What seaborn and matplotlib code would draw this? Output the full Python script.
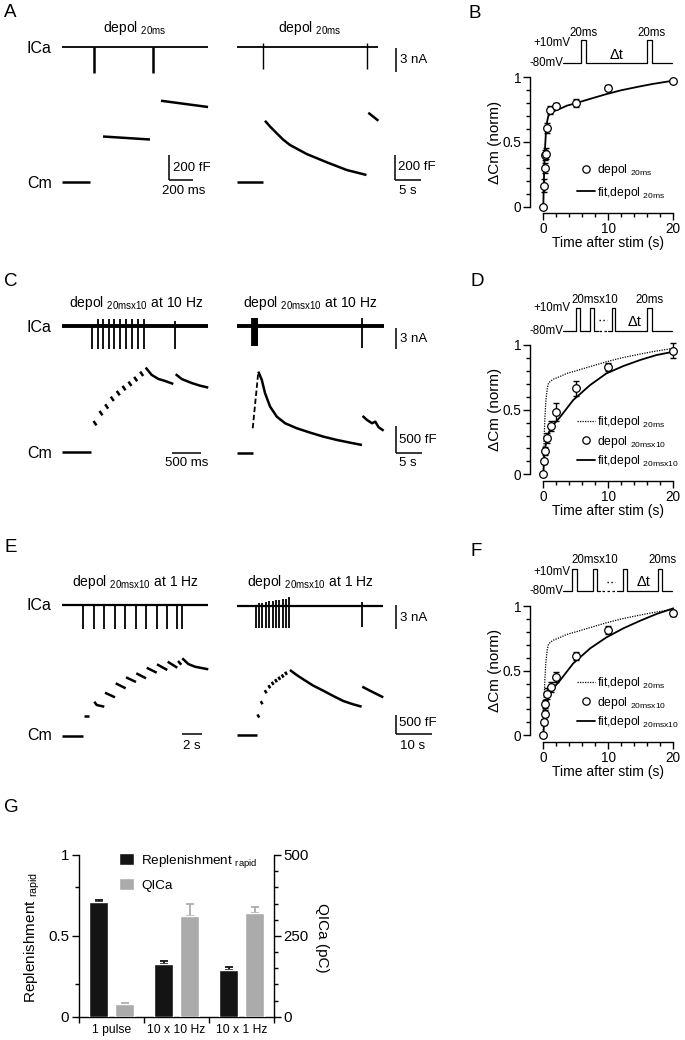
import numpy as np
import matplotlib
matplotlib.use("Agg")
import matplotlib.pyplot as plt
import seaborn as sns
from matplotlib.lines import Line2D
from matplotlib.patches import Patch

sns.set_theme(style="ticks", rc={
    "axes.edgecolor": "black", "text.color": "black", "axes.labelcolor": "black",
    "xtick.color": "black", "ytick.color": "black", "axes.linewidth": 1.0,
})
plt.rcParams["font.family"] = ["Liberation Sans", "DejaVu Sans"]
plt.rcParams["mathtext.fontset"] = "custom"
plt.rcParams["mathtext.rm"] = "Liberation Sans"
plt.rcParams["mathtext.it"] = "Liberation Sans"
plt.rcParams["mathtext.bf"] = "Liberation Sans"
plt.rcParams["mathtext.default"] = "regular"

# ---------------- data ----------------
# A: single 20 ms depolarisations (left: ms, right: s; ICa nA, Cm fF)
A_L_SPIKE_T = [267, 758]
A_L_SPIKE_UP = [0.0, 0.0]
A_L_SPIKE_DN = [-3.25, -3.25]
A_L_CM_T = [[0, 233], [342, 733], [825, 1217]]
A_L_CM = [[0, 0], [364, 340], [650, 600]]
A_R_SPIKE_T = [5.0, 25.0]
A_R_SPIKE_UP = [0.5, 0.5]
A_R_SPIKE_DN = [-2.75, -2.75]
A_R_CM_T = [[0, 5.0], [5.38, 6.35, 7.63, 8.85, 10.19, 13.4, 17.25, 21.1, 24.9], [25.25, 27.2]]
A_R_CM = [[0, 0], [490, 444, 390, 340, 296, 224, 158, 96, 56], [554, 490]]

# C: 10 x 20 ms at 10 Hz
C_L_SPIKE_T = [523, 615, 712, 810, 901, 1000, 1098, 1201, 1304, 1413, 1948]
C_L_SPIKE_UP = [0.0, 0.9, 0.9, 0.9, 0.9, 0.9, 0.9, 0.9, 0.9, 0.9, 0.7]
C_L_SPIKE_DN = [-3.3, -3.3, -3.3, -3.3, -3.3, -3.3, -3.3, -3.3, -3.3, -3.3, -3.3]
C_L_CM_T = [[0, 500], [1443, 1546, 1660, 1776, 1919], [1960, 2064, 2236, 2379, 2522]]
C_L_CM = [[0, 0], [1575, 1438, 1363, 1325, 1269], [1451, 1361, 1286, 1237, 1200]]
C_L_DASH_T = [569, 672, 770, 867, 970, 1069, 1172, 1270, 1373]
C_L_DASH = [534, 722, 847, 991, 1097, 1191, 1272, 1360, 1459]
C_R_SPIKE_T = [3.0, 3.1, 3.2, 3.3, 3.4, 3.5, 3.6, 3.7, 3.8, 3.9, 24.4]
C_R_SPIKE_UP = [1.06, 1.06, 1.06, 1.06, 1.06, 1.06, 1.06, 1.06, 1.06, 1.06, 1.05]
C_R_SPIKE_DN = [-2.86, -2.86, -2.86, -2.86, -2.86, -2.86, -2.86, -2.86, -2.86, -2.86, -3.24]
C_R_CM_T = [[0, 3.1],
            [4.15, 4.82, 5.46, 6.44, 7.74, 9.36, 11.64, 14.24, 16.83, 19.44, 22.04, 24.32],
            [24.43, 25.29, 26.27, 26.91, 27.55, 28.53]]
C_R_CM = [[0, 0],
          [1524, 1369, 1119, 868, 681, 557, 463, 381, 306, 244, 193, 150],
          [694, 619, 557, 587, 482, 418]]
C_R_RISE_T = [3.06, 4.15]
C_R_RISE = [463, 1524]

# E: 10 x 20 ms at 1 Hz
E_L_SPIKE_T = [2.13, 3.2, 4.23, 5.3, 6.33, 7.37, 8.4, 9.47, 10.53, 11.53, 12.0]
E_L_SPIKE_UP = [0.0] * 11
E_L_SPIKE_DN = [-3.04] * 11
E_L_CM_T = [[0, 2.1], [2.23, 2.73], [3.23, 3.47, 4.23], [4.3, 5.3], [5.37, 6.37], [6.4, 7.4],
            [7.43, 8.4], [8.47, 9.47], [9.5, 10.53], [10.57, 11.53], [11.6, 11.93],
            [12.03, 12.63, 13.3, 14.63]]
E_L_CM = [[0, 0], [502, 502], [881, 795, 751], [1114, 994], [1357, 1227], [1512, 1391],
          [1616, 1487], [1761, 1632], [1849, 1702], [1917, 1761], [1935, 1839],
          [2005, 1857, 1787, 1720]]
E_R_SPIKE_T = [5.23, 6.16, 7.09, 8.03, 9.05, 9.99, 10.92, 11.85, 12.79, 13.72, 14.65, 35.1]
E_R_SPIKE_UP = [0.08, 0.29, 0.38, 0.5, 0.58, 0.63, 0.71, 0.75, 0.79, 0.83, 1.04, 0.5]
E_R_SPIKE_DN = [-2.83, -2.83, -2.83, -2.83, -2.83, -2.83, -2.83, -2.83, -2.83, -2.83, -2.83, -2.63]
E_R_CM_T = [[0, 5.5], [14.84, 16.71, 18.57, 21.37, 24.17, 26.97, 29.77, 32.57, 34.9],
            [35.09, 37.24, 39.1, 40.97]]
E_R_CM = [[0, 0], [1684, 1554, 1442, 1278, 1148, 1010, 881, 794, 734], [1251, 1148, 1062, 976]]
E_R_DASH_T = [5.97, 6.9, 8.03, 9.05, 9.99, 10.92, 11.85, 12.79, 13.72]
E_R_DASH = [492, 837, 1122, 1251, 1339, 1407, 1468, 1528, 1598]

# B / D / F: normalised delta Cm vs time after stim (s)
B_T = [0, 0.1, 0.2, 0.3, 0.4, 0.6, 1, 2, 5, 10, 20]
B_Y = [0, 0.16, 0.30, 0.40, 0.41, 0.61, 0.75, 0.78, 0.80, 0.92, 0.97]
B_E = [0, 0.05, 0.04, 0.04, 0.04, 0.04, 0.03, 0.02, 0.03, 0.02, 0.01]
FIT20_T = [0, 0.05, 0.15, 0.25, 0.4, 0.6, 0.77, 1.0, 1.5, 2.5, 3.6, 5, 7.2, 9.7, 12, 14.9, 17, 20]
FIT20_Y = [0, 0.12, 0.31, 0.44, 0.57, 0.66, 0.70, 0.715, 0.735, 0.755, 0.78, 0.80, 0.833, 0.87, 0.90, 0.93, 0.95, 0.974]

D_T = [0, 0.1, 0.2, 0.5, 1.2, 2, 5, 10, 20]
D_Y = [0, 0.10, 0.18, 0.28, 0.375, 0.483, 0.664, 0.832, 0.956]
D_E = [0, 0.02, 0.03, 0.04, 0.04, 0.07, 0.06, 0.03, 0.06]
D_FIT_T = [0, 0.15, 0.4, 0.77, 1.5, 2.6, 4.6, 7.2, 9.7, 12.3, 14.9, 17.4, 20]
D_FIT_Y = [0, 0.134, 0.238, 0.315, 0.38, 0.444, 0.574, 0.69, 0.78, 0.837, 0.884, 0.922, 0.948]

F_T = [0, 0.1, 0.2, 0.3, 0.5, 1.2, 2, 5, 10, 20]
F_Y = [0, 0.103, 0.168, 0.245, 0.323, 0.375, 0.452, 0.612, 0.814, 0.943]
F_E = [0, 0.02, 0.03, 0.03, 0.04, 0.04, 0.04, 0.03, 0.03, 0.02]
F_FIT_T = [0, 0.15, 0.4, 0.77, 1.5, 2.6, 4.6, 7.2, 9.7, 12.3, 14.9, 17.4, 20]
F_FIT_Y = [0, 0.116, 0.22, 0.297, 0.362, 0.426, 0.556, 0.672, 0.757, 0.827, 0.886, 0.938, 0.982]

# G: bar chart
G_CATS = ["1 pulse", "10 x 10 Hz", "10 x 1 Hz"]
G_REPL = [0.707, 0.326, 0.289]
G_REPL_ERR = [0.015, 0.02, 0.02]
G_QICA = [38, 311, 322]
G_QICA_ERR = [5, 36, 18]

# ---------------- figure helpers ----------------
W, H, DPI = 685, 1040, 100
fig = plt.figure(figsize=(W / DPI, H / DPI), dpi=DPI)
K = "black"
TRACE_LW = 1.8


def px_axes(l, t, r, b):
    return fig.add_axes([l / W, 1 - b / H, (r - l) / W, (b - t) / H])


def trace_axes(l, t, r, b, x0, sx, y0, sy):
    ax = px_axes(l, t, r, b)
    ax.set_xlim((l - x0) * sx, (r - x0) * sx)
    ax.set_ylim((y0 - b) * sy, (y0 - t) * sy)
    ax.axis("off")
    ax.patch.set_alpha(0)
    return ax


def ftext(x, y, s, size=9.5, ha="left", va="center", **kw):
    fig.text(x / W, 1 - y / H, s, size=size, ha=ha, va=va, **kw)


def ica(ax, t1, spikes, up, dn, lw_base, lw_spike):
    ax.plot([0, t1], [0, 0], color=K, lw=lw_base, solid_capstyle="butt")
    ax.vlines(spikes, dn, up, color=K, lw=lw_spike)


def cm(ax, ts, vs, lw=TRACE_LW):
    for t, v in zip(ts, vs):
        ax.plot(t, v, color=K, lw=lw, solid_capstyle="butt")


def dashes(ax, ts, vs, dt, dv, lw=TRACE_LW):
    for t, v in zip(ts, vs):
        ax.plot([t - dt, t + dt], [v + dv, v - dv], color=K, lw=lw, solid_capstyle="butt")


def lbar(ax, x, y, lx, ly, lw=1.1):
    if ly:
        ax.plot([x, x], [y, y + ly], color=K, lw=lw, solid_capstyle="butt")
    if lx:
        ax.plot([x, x + lx], [y, y], color=K, lw=lw, solid_capstyle="butt")


def sub(base, s):
    return base + " ${}_{" + s + "}$"


# ---------------- panel A ----------------
ftext(4, 12.5, "A", size=13.5)
ftext(135, 28, sub("depol", "20ms"), size=10, ha="center")
ftext(310, 28, sub("depol", "20ms"), size=10, ha="center")
ftext(27, 48, "ICa", size=11.5)
ftext(27, 183, "Cm", size=11.5)
a1 = trace_axes(55, 30, 230, 85, 62, 200 / 24, 47, 3 / 24)
ica(a1, 1217, A_L_SPIKE_T, A_L_SPIKE_UP, A_L_SPIKE_DN, 1.3, 1.8)
a2 = trace_axes(55, 90, 230, 200, 62, 200 / 24, 182, 200 / 25)
cm(a2, A_L_CM_T, A_L_CM)
lbar(a2, 891, 16, 200, 200)
a3 = trace_axes(230, 30, 440, 85, 237, 5 / 26, 47, 3 / 24)
ica(a3, 27.1, A_R_SPIKE_T, A_R_SPIKE_UP, A_R_SPIKE_DN, 1.3, 1.0)
lbar(a3, 30.6, -0.125, 0, -3)
a4 = trace_axes(230, 90, 440, 200, 237, 5 / 26, 182, 200 / 25)
cm(a4, A_R_CM_T, A_R_CM)
lbar(a4, 30.4, 16, 5, 200)
ftext(400, 60, "3 nA")
ftext(173, 168, "200 fF")
ftext(184, 191, "200 ms", ha="center")
ftext(398, 167, "200 fF")
ftext(408, 191, "5 s", ha="center")

# ---------------- panel C ----------------
ftext(4, 281.5, "C", size=13.5)
ftext(136, 302.7, sub("depol", "20msx10") + " at 10 Hz", size=10, ha="center")
ftext(310, 302.7, sub("depol", "20msx10") + " at 10 Hz", size=10, ha="center")
ftext(27, 327, "ICa", size=11.5)
ftext(27, 453, "Cm", size=11.5)
c1 = trace_axes(55, 305, 230, 360, 62, 500 / 29, 325.7, 3 / 21)
ica(c1, 2522, C_L_SPIKE_T, C_L_SPIKE_UP, C_L_SPIKE_DN, 2.8, 1.3)
c2 = trace_axes(55, 360, 230, 470, 62, 500 / 29, 451.7, 500 / 26.7)
cm(c2, C_L_CM_T, C_L_CM)
dashes(c2, C_L_DASH_T, C_L_DASH, 26, 41)
lbar(c2, 1896, -24, 500, 0)
c3 = trace_axes(230, 305, 440, 360, 237, 5 / 25.7, 325.7, 3 / 21)
ica(c3, 28.6, C_R_SPIKE_T, C_R_SPIKE_UP, C_R_SPIKE_DN, 2.8, 1.3)
lbar(c3, 31.0, -0.33, 0, -3)
c4 = trace_axes(230, 360, 440, 470, 237, 5 / 25.7, 453, 500 / 26.7)
cm(c4, C_R_CM_T, C_R_CM)
c4.plot(C_R_RISE_T, C_R_RISE, color=K, lw=1.3, ls=(0, (3, 1.5)))
lbar(c4, 31.0, 6, 5, 500)
ftext(400, 339, "3 nA")
ftext(187, 463, "500 ms", ha="center")
ftext(399, 440, "500 fF")
ftext(408, 463, "5 s", ha="center")

# ---------------- panel E ----------------
ftext(4, 548, "E", size=13.5)
ftext(135, 581.7, sub("depol", "20msx10") + " at 1 Hz", size=10, ha="center")
ftext(310, 581.7, sub("depol", "20msx10") + " at 1 Hz", size=10, ha="center")
ftext(27, 605, "ICa", size=11.5)
ftext(27, 736, "Cm", size=11.5)
e1 = trace_axes(55, 585, 230, 640, 62, 2 / 20, 605, 3 / 24)
ica(e1, 14.63, E_L_SPIKE_T, E_L_SPIKE_UP, E_L_SPIKE_DN, 1.6, 1.3)
e2 = trace_axes(55, 640, 230, 755, 62, 2 / 20, 735.7, 500 / 19.3)
cm(e2, E_L_CM_T, E_L_CM)
lbar(e2, 11.97, 36, 2, 0)
e3 = trace_axes(230, 585, 440, 640, 237, 10 / 35.7, 605.7, 3 / 24)
ica(e3, 40.97, E_R_SPIKE_T, E_R_SPIKE_UP, E_R_SPIKE_DN, 1.6, 1.3)
lbar(e3, 44.5, 0.09, 0, -3)
e4 = trace_axes(230, 640, 440, 755, 237, 10 / 35.7, 735, 500 / 19.3)
cm(e4, E_R_CM_T, E_R_CM)
dashes(e4, E_R_DASH_T, E_R_DASH, 0.25, 40)
lbar(e4, 44.5, 18, 10, 500)
ftext(400, 618, "3 nA")
ftext(192, 746, "2 s", ha="center")
ftext(399, 723, "500 fF")
ftext(413, 746, "10 s", ha="center")


# ---------------- panels B / D / F ----------------
def protocol(ax, t0, pulses, t1):
    ts, vs = [t0], [-80]
    for a, b in pulses:
        ts += [a, a, b, b]
        vs += [-80, 10, 10, -80]
    ts.append(t1)
    vs.append(-80)
    ax.plot(ts, vs, color=K, lw=0.9)


def fit_panel(y1px, t, y, e, fit_t, fit_y, ref, leg_top, leg_labels, leg_sp):
    y0px = y1px + 129.3
    ax = px_axes(536.8, y1px - 0.02 * 129.3, 679.8, y0px + 0.02 * 129.3)
    ax.set_xlim(-1, 21)
    ax.set_ylim(-0.02, 1.02)
    sns.despine(ax=ax)
    ax.spines["left"].set_position(("outward", 4.9))
    ax.spines["bottom"].set_position(("outward", 3.0))
    ax.spines["left"].set_bounds(0, 1)
    ax.spines["bottom"].set_bounds(0, 20)
    ax.set_xticks([0, 10, 20])
    ax.set_xticks([2, 4, 6, 8, 12, 14, 16, 18], minor=True)
    ax.set_yticks([0, 0.5, 1])
    ax.set_yticklabels(["0", "0.5", "1"])
    ax.set_yticks([0.1, 0.2, 0.3, 0.4, 0.6, 0.7, 0.8, 0.9], minor=True)
    ax.tick_params(which="major", length=5, width=1, direction="out", labelsize=9.8, pad=1.2)
    ax.tick_params(which="minor", length=2.8, width=1, direction="out")
    handles = []
    if ref:
        sns.lineplot(x=FIT20_T, y=FIT20_Y, ax=ax, color=K, lw=0.9, linestyle=(0, (1, 1)))
        handles.append(Line2D([], [], color=K, lw=0.9, ls=(0, (1, 1))))
    ax.errorbar(t, y, yerr=e, fmt="none", ecolor=K, elinewidth=1.0, capsize=2.5, capthick=1.0, zorder=3)
    sns.lineplot(x=fit_t, y=fit_y, ax=ax, color=K, lw=1.3, zorder=2)
    sns.scatterplot(x=t, y=y, ax=ax, marker="o", s=30, facecolor="white", edgecolor=K,
                    linewidth=0.9, zorder=4, clip_on=False)
    handles.append(Line2D([], [], ls="none", marker="o", ms=5.3, mfc="white", mec=K, mew=0.9))
    handles.append(Line2D([], [], color=K, lw=1.3))
    ax.legend(handles, leg_labels, loc="upper left", bbox_to_anchor=(576.7 / W, 1 - leg_top / H),
              bbox_transform=fig.transFigure, frameon=False, fontsize=8.7, handlelength=1.5,
              handletextpad=0.2, labelspacing=leg_sp, borderpad=0, borderaxespad=0)
    ax.set_xlabel("Time after stim (s)", fontsize=10)
    ax.set_ylabel("ΔCm (norm)", fontsize=11)
    ax.xaxis.set_label_coords(0.5, -0.2)
    ax.yaxis.set_label_coords(-0.243, 0.5)
    return ax


# B
ftext(468, 13.5, "B", size=13.5)
fit_panel(77.3, B_T, B_Y, B_E, FIT20_T, FIT20_Y, False, 162,
          [sub("depol", "20ms"), sub("fit,depol", "20ms")], 0.55)
pb = trace_axes(555, 35, 685, 68, 563.3, 1, 42.6, 90 / 23.3)
protocol(pb, 0, [(17.4, 22.4), (83.4, 88.4)], 108.4)
ftext(570, 43.3, "+10mV", size=8.3, ha="right")
ftext(563, 63.3, "-80mV", size=8.3, ha="right")
ftext(584, 33, "20ms", size=8.3, ha="center")
ftext(651.7, 33, "20ms", size=8.3, ha="center")
ftext(616.7, 55, "Δt", size=10.5, ha="center")

# D
ftext(470, 281.5, "D", size=13.5)
d_labels = [sub("fit,depol", "20ms"), sub("depol", "20msx10"), sub("fit,depol", "20msx10")]
fit_panel(345, D_T, D_Y, D_E, D_FIT_T, D_FIT_Y, True, 414, d_labels, 0.3)
pd_ = trace_axes(555, 303, 685, 336, 563.3, 1, 310.8, 90 / 22.7)
protocol(pd_, 0, [(12.4, 16.7), (26.7, 30.7)], 34.7)
protocol(pd_, 44.7, [(48.4, 51.7), (83.4, 88.4)], 108.4)
pd_.plot([36, 44], [-80, -80], color=K, lw=0.9, ls=(0, (2, 2)))
pd_.plot([36, 44], [-36, -36], color=K, lw=1.0, ls=(0, (1, 1.8)))
ftext(570, 308.3, "+10mV", size=8.3, ha="right")
ftext(563.3, 331, "-80mV", size=8.3, ha="right")
ftext(595, 300, "20msx10", size=8.3, ha="center")
ftext(650, 300, "20ms", size=8.3, ha="center")
ftext(635, 321.7, "Δt", size=10.5, ha="center")

# F
ftext(470, 551, "F", size=13.5)
fit_panel(606, F_T, F_Y, F_E, F_FIT_T, F_FIT_Y, True, 675, d_labels, 0.3)
pf = trace_axes(555, 564, 685, 596, 563.3, 1, 571.7, 90 / 21.7)
protocol(pf, 0, [(8.4, 13.4), (30, 33.4)], 37)
protocol(pf, 53.4, [(59.4, 64), (95, 98.4)], 108.4)
pf.plot([38.5, 52.5], [-80, -80], color=K, lw=0.9, ls=(0, (2, 2)))
pf.plot([43.4, 51.7], [-41, -41], color=K, lw=1.0, ls=(0, (1, 1.8)))
ftext(570, 571.7, "+10mV", size=8.3, ha="right")
ftext(563.3, 591, "-80mV", size=8.3, ha="right")
ftext(595, 560, "20msx10", size=8.3, ha="center")
ftext(662.7, 560, "20ms", size=8.3, ha="center")
ftext(643.3, 582.3, "Δt", size=10.5, ha="center")

# ---------------- panel G ----------------
ftext(4, 808, "G", size=13.5)
axg = px_axes(79, 855, 274, 1016.7)
axg.set_xlim(-0.5, 2.5)
axg.set_ylim(0, 1)
axg2 = axg.twinx()
axg2.set_ylim(0, 500)
xpos = np.arange(len(G_CATS))
black, grey = "#141414", "#ababab"
axg.bar(xpos - 0.2, G_REPL, width=0.297, color=black, zorder=3)
axg.errorbar(xpos - 0.2, G_REPL, yerr=[np.zeros(3), G_REPL_ERR], fmt="none", ecolor=black,
             elinewidth=1.3, capsize=3, capthick=1.3, zorder=2)
axg2.bar(xpos + 0.2, G_QICA, width=0.297, color=grey, zorder=3)
axg2.errorbar(xpos + 0.2, G_QICA, yerr=[np.zeros(3), G_QICA_ERR], fmt="none", ecolor=grey,
              elinewidth=1.3, capsize=3, capthick=1.3, zorder=2)
axg.spines["top"].set_visible(False)
axg.spines["right"].set_visible(False)
axg2.spines["top"].set_visible(False)
axg2.spines["left"].set_visible(False)
axg2.spines["bottom"].set_visible(False)
axg.set_yticks([0, 0.5, 1])
axg.set_yticklabels(["0", "0.5", "1"])
axg.set_yticks([0.2, 0.8], minor=True)
axg2.set_yticks([0, 250, 500])
axg2.set_yticks([50, 100, 150, 200, 300, 350, 400, 450], minor=True)
axg.set_xticks([-0.5, 0.5, 1.5, 2.5])
axg.set_xticklabels([])
axg.set_xticks(xpos, minor=True)
axg.set_xticklabels(G_CATS, minor=True)
for a in (axg, axg2):
    a.tick_params(which="major", length=5, width=1, direction="out", labelsize=10.8, pad=2)
    a.tick_params(which="minor", length=3, width=1, direction="out")
axg.tick_params(axis="x", which="major", length=4.5)
axg.tick_params(axis="x", which="minor", length=0, labelsize=8.7, pad=5)
axg.set_ylabel(sub("Replenishment", "rapid"), fontsize=11)
axg.yaxis.set_label_coords(-0.19, 0.49)
axg2.set_ylabel("QICa (pC)", fontsize=11, rotation=270, va="bottom")
axg2.yaxis.set_label_coords(1.209, 0.49)
axg.legend([Patch(facecolor=black), Patch(facecolor=grey)],
           [sub("Replenishment", "rapid"), "QICa"], loc="upper left",
           bbox_to_anchor=(119 / W, 1 - 853 / H), bbox_transform=fig.transFigure,
           frameon=False, fontsize=9.7, handlelength=1.15, handleheight=1.0,
           handletextpad=0.5, labelspacing=0.6, borderpad=0, borderaxespad=0)

fig.savefig("out.png", dpi=DPI)
